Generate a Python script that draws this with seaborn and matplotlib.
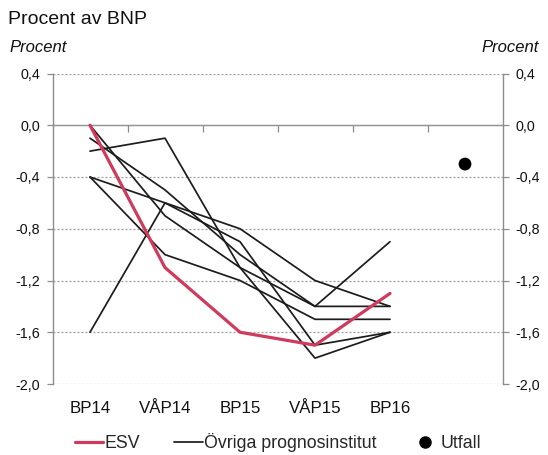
import numpy as np
import pandas as pd
import matplotlib
matplotlib.use("Agg")
import matplotlib.pyplot as plt
import seaborn as sns
from matplotlib import font_manager
from matplotlib.lines import Line2D

# ---- data -------------------------------------------------------------
categories = ["BP14", "VÅP14", "BP15", "VÅP15", "BP16"]
outcome_slot = "Utfall"          # sixth, unlabeled slot on the x axis
esv = [0.0, -1.1, -1.6, -1.7, -1.3]
inst1 = [-0.4, -0.6, -0.8, -1.2, -1.4]
inst2 = [-0.2, -0.1, -1.1, -1.8, -1.6]
inst3 = [-0.4, -1.0, -1.2, -1.5, -1.5]
inst4 = [-1.6, -0.6, -0.9, -1.7, -1.6]
inst5 = [0.0, -0.7, -1.1, -1.4, -0.9]
inst6 = [-0.1, -0.5, -1.0, -1.4, -1.4]
utfall = [-0.3]
yticks = [0.4, 0.0, -0.4, -0.8, -1.2, -1.6, -2.0]
ytick_labels = ["0,4", "0,0", "-0,4", "-0,8", "-1,2", "-1,6", "-2,0"]

# ---- style ------------------------------------------------------------
sns.set_theme(style="white")
names = {f.name for f in font_manager.fontManager.ttflist}
narrow = "Liberation Sans Narrow" in names
if narrow:
    body_font = ["Liberation Sans Narrow", "DejaVu Sans"]
    s_tick, s_cat, s_leg, s_unit = 12.0, 14.5, 14.5, 14.0
else:
    body_font = ["Liberation Sans", "DejaVu Sans"]
    s_tick, s_cat, s_leg, s_unit = 10.3, 12.2, 12.8, 12.0
plt.rcParams["font.family"] = body_font

slots = categories + [outcome_slot]
pos = {c: i for i, c in enumerate(slots)}

others = [inst1, inst2, inst3, inst4, inst5, inst6]
df_o = pd.DataFrame([
    {"series": f"inst{k+1}", "pos": pos[c], "value": v}
    for k, vals in enumerate(others) for c, v in zip(categories, vals)
])
df_e = pd.DataFrame({"pos": [pos[c] for c in categories], "value": esv})
df_u = pd.DataFrame({"pos": [pos[outcome_slot]], "value": utfall})

W, H = 548, 455
fig = plt.figure(figsize=(W / 100, H / 100), dpi=100)
ax = fig.add_axes([52.5 / W, 1 - 384 / H, 450 / W, 310.5 / H])

red = "#D03A5C"
blk = "#1c1c1c"
gray = "#8c8c8c"

sns.lineplot(data=df_o, x="pos", y="value", units="series", estimator=None,
             color=blk, lw=1.25, ax=ax, legend=False)
sns.lineplot(data=df_e, x="pos", y="value", color=red, lw=2.3, ax=ax,
             legend=False)
sns.scatterplot(data=df_u, x="pos", y="value", color="black", s=85,
                edgecolor="none", ax=ax, legend=False, zorder=5)

ymin, ymax = -2.0, 0.4
ax.set_xlim(-0.5, len(slots) - 0.5)
ax.set_ylim(ymin, ymax)
ax.set_xlabel("")
ax.set_ylabel("")

# y axis: labels both sides, dotted grid
ax.set_yticks(yticks)
ax.set_yticklabels(ytick_labels)
ax.yaxis.grid(True, linestyle=(0, (1.6, 1.6)), color="#9e9e9e", lw=0.9)
ax.tick_params(axis="y", which="both", left=True, right=True,
               labelleft=True, labelright=True, direction="out",
               length=4, width=0.9, color=gray, pad=5,
               labelsize=s_tick, labelcolor="#111111")

# x axis labels at the bottom
ax.set_xticks(range(len(categories)))
ax.set_xticklabels(categories)
ax.tick_params(axis="x", length=0, pad=12, labelsize=s_cat,
               labelcolor="#111111")

for side in ("top", "bottom"):
    ax.spines[side].set_visible(False)
for side in ("left", "right"):
    ax.spines[side].set_color(gray)
    ax.spines[side].set_linewidth(1.0)

# zero line with category-boundary tick marks
loc0 = (0 - ymin) / (ymax - ymin)
sec = ax.secondary_xaxis(loc0)
sec.set_xticks([i + 0.5 for i in range(len(slots) - 1)])
sec.set_xticklabels([])
sec.tick_params(direction="in", length=5, width=0.9, color=gray)
for sp in sec.spines.values():
    sp.set_color(gray)
    sp.set_linewidth(1.0)

# texts
fig.text(8 / W, 1 - 19 / H, "Procent av BNP", fontsize=14,
         family=["Liberation Sans", "DejaVu Sans"], ha="left", va="center",
         color="#111111")
fig.text(9 / W, 1 - 48 / H, "Procent", fontsize=s_unit, style="italic",
         ha="left", va="center", color="#111111")
fig.text(539 / W, 1 - 48 / H, "Procent", fontsize=s_unit, style="italic",
         ha="right", va="center", color="#111111")

handles = [
    Line2D([], [], color=red, lw=2.3),
    Line2D([], [], color=blk, lw=1.25),
    Line2D([], [], color="black", marker="o", ls="none", markersize=8),
]
labels = ["ESV", "Övriga prognosinstitut", "Utfall"]
fig.legend(handles, labels, loc="center", bbox_to_anchor=(278 / W, 1 - 443 / H),
           ncol=3, frameon=False, fontsize=s_leg, handlelength=1.6,
           handletextpad=0.1, columnspacing=1.9, borderpad=0)

fig.savefig("out.png", dpi=100)
